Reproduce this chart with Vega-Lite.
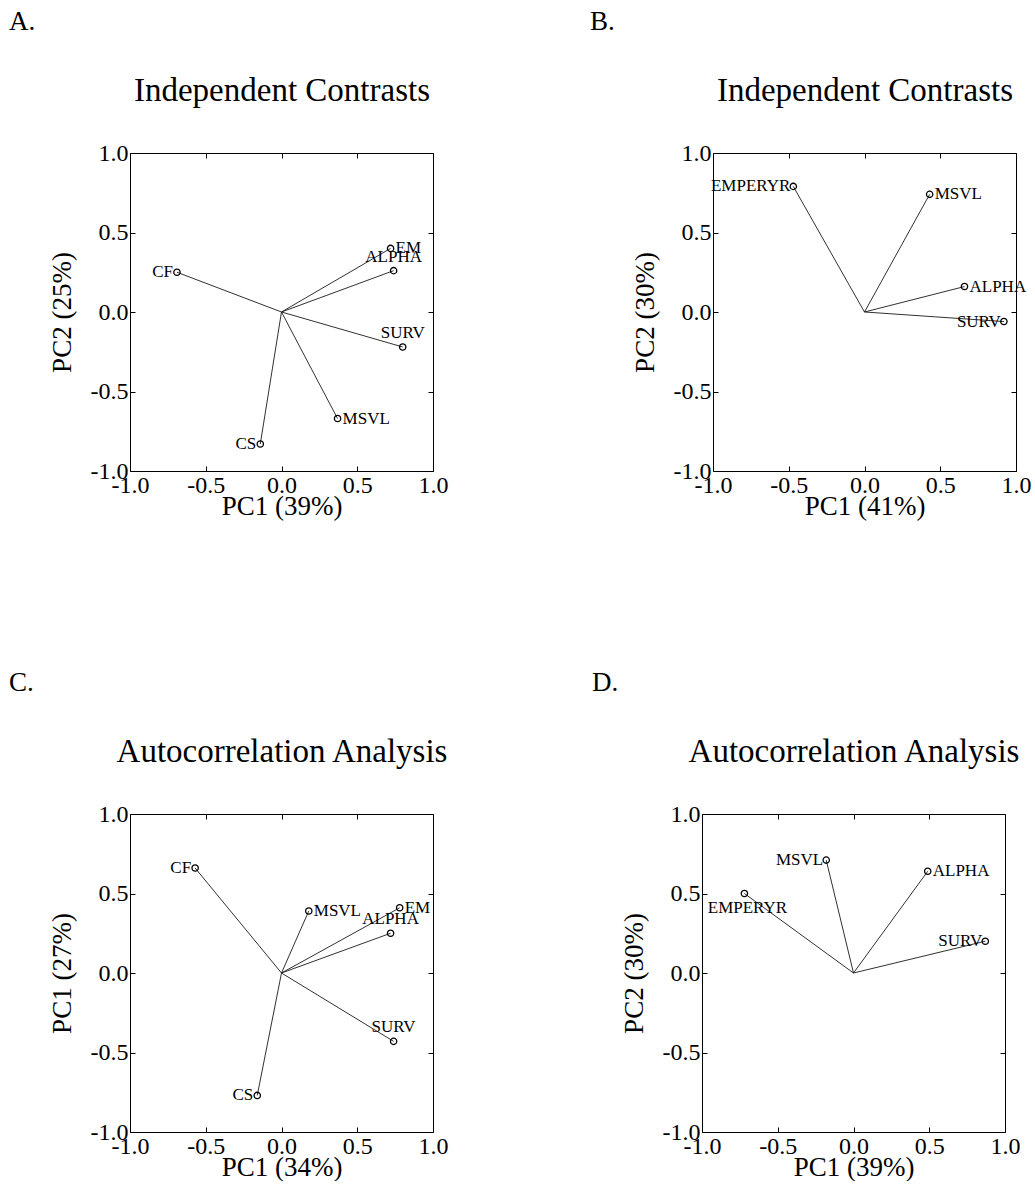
{
  "$schema": "https://vega.github.io/schema/vega-lite/v6.json",
  "background": "white",
  "padding": {"left": 8, "top": 7, "right": 0, "bottom": 0},
  "spacing": 148,
  "vconcat": [
    {
      "spacing": 140,
      "hconcat": [
        {
          "width": 303, "height": 318,
          "title": {"text": "A.", "dx": -121},
          "data": {"values": [
            {"label": "CF", "x": -0.69, "y": 0.25},
            {"label": "EM", "x": 0.72, "y": 0.40},
            {"label": "ALPHA", "x": 0.74, "y": 0.26},
            {"label": "SURV", "x": 0.80, "y": -0.22},
            {"label": "MSVL", "x": 0.37, "y": -0.67},
            {"label": "CS", "x": -0.14, "y": -0.83}
          ]},
          "resolve": {"axis": {"x": "independent", "y": "independent"}},
          "layer": [
            {"mark": {"type": "rule", "color": "#1a1a1a", "strokeWidth": 0.9},
             "encoding": {
               "x": {"field": "x", "type": "quantitative", "scale": {"domain": [-1, 1], "nice": false, "zero": false}, "axis": {"title": "PC1 (39%)", "format": ".1f"}},
               "y": {"field": "y", "type": "quantitative", "scale": {"domain": [-1, 1], "nice": false, "zero": false}, "axis": {"title": "PC2 (25%)", "format": ".1f"}},
               "x2": {"datum": 0}, "y2": {"datum": 0}}},
            {"mark": {"type": "point", "shape": "circle", "filled": false, "color": "black", "size": 40, "strokeWidth": 1.3, "opacity": 1},
             "encoding": {
               "x": {"field": "x", "type": "quantitative", "axis": {"orient": "top", "labels": false, "title": "Independent Contrasts", "titleFontSize": 33, "titlePadding": 45}},
               "y": {"field": "y", "type": "quantitative", "axis": {"orient": "right", "labels": false, "title": null}}}},
            {"transform": [{"filter": {"field": "label", "oneOf": ["EM", "MSVL"]}}],
             "mark": {"type": "text", "align": "left", "baseline": "middle", "dx": 5},
             "encoding": {"x": {"field": "x", "type": "quantitative", "axis": null}, "y": {"field": "y", "type": "quantitative", "axis": null}, "text": {"field": "label"}}},
            {"transform": [{"filter": {"field": "label", "oneOf": ["CF", "CS"]}}],
             "mark": {"type": "text", "align": "right", "baseline": "middle", "dx": -4},
             "encoding": {"x": {"field": "x", "type": "quantitative", "axis": null}, "y": {"field": "y", "type": "quantitative", "axis": null}, "text": {"field": "label"}}},
            {"transform": [{"filter": {"field": "label", "oneOf": ["ALPHA", "SURV"]}}],
             "mark": {"type": "text", "align": "center", "baseline": "alphabetic", "dy": -9},
             "encoding": {"x": {"field": "x", "type": "quantitative", "axis": null}, "y": {"field": "y", "type": "quantitative", "axis": null}, "text": {"field": "label"}}}
          ]
        },
        {
          "width": 303, "height": 318,
          "title": {"text": "B.", "dx": -123},
          "data": {"values": [
            {"label": "EMPERYR", "x": -0.47, "y": 0.79},
            {"label": "MSVL", "x": 0.43, "y": 0.74},
            {"label": "ALPHA", "x": 0.66, "y": 0.16},
            {"label": "SURV", "x": 0.92, "y": -0.06}
          ]},
          "resolve": {"axis": {"x": "independent", "y": "independent"}},
          "layer": [
            {"mark": {"type": "rule", "color": "#1a1a1a", "strokeWidth": 0.9},
             "encoding": {
               "x": {"field": "x", "type": "quantitative", "scale": {"domain": [-1, 1], "nice": false, "zero": false}, "axis": {"title": "PC1 (41%)", "format": ".1f"}},
               "y": {"field": "y", "type": "quantitative", "scale": {"domain": [-1, 1], "nice": false, "zero": false}, "axis": {"title": "PC2 (30%)", "format": ".1f"}},
               "x2": {"datum": 0}, "y2": {"datum": 0}}},
            {"mark": {"type": "point", "shape": "circle", "filled": false, "color": "black", "size": 40, "strokeWidth": 1.3, "opacity": 1},
             "encoding": {
               "x": {"field": "x", "type": "quantitative", "axis": {"orient": "top", "labels": false, "title": "Independent Contrasts", "titleFontSize": 33, "titlePadding": 45}},
               "y": {"field": "y", "type": "quantitative", "axis": {"orient": "right", "labels": false, "title": null}}}},
            {"transform": [{"filter": {"field": "label", "oneOf": ["MSVL", "ALPHA"]}}],
             "mark": {"type": "text", "align": "left", "baseline": "middle", "dx": 5},
             "encoding": {"x": {"field": "x", "type": "quantitative", "axis": null}, "y": {"field": "y", "type": "quantitative", "axis": null}, "text": {"field": "label"}}},
            {"transform": [{"filter": {"field": "label", "oneOf": ["EMPERYR", "SURV"]}}],
             "mark": {"type": "text", "align": "right", "baseline": "middle", "dx": -3},
             "encoding": {"x": {"field": "x", "type": "quantitative", "axis": null}, "y": {"field": "y", "type": "quantitative", "axis": null}, "text": {"field": "label"}}}
          ]
        }
      ]
    },
    {
      "spacing": 142,
      "hconcat": [
        {
          "width": 303, "height": 318,
          "title": {"text": "C.", "dx": -121},
          "data": {"values": [
            {"label": "CF", "x": -0.57, "y": 0.66},
            {"label": "MSVL", "x": 0.18, "y": 0.39},
            {"label": "EM", "x": 0.78, "y": 0.41},
            {"label": "ALPHA", "x": 0.72, "y": 0.25},
            {"label": "SURV", "x": 0.74, "y": -0.43},
            {"label": "CS", "x": -0.16, "y": -0.77}
          ]},
          "resolve": {"axis": {"x": "independent", "y": "independent"}},
          "layer": [
            {"mark": {"type": "rule", "color": "#1a1a1a", "strokeWidth": 0.9},
             "encoding": {
               "x": {"field": "x", "type": "quantitative", "scale": {"domain": [-1, 1], "nice": false, "zero": false}, "axis": {"title": "PC1 (34%)", "format": ".1f"}},
               "y": {"field": "y", "type": "quantitative", "scale": {"domain": [-1, 1], "nice": false, "zero": false}, "axis": {"title": "PC1 (27%)", "format": ".1f"}},
               "x2": {"datum": 0}, "y2": {"datum": 0}}},
            {"mark": {"type": "point", "shape": "circle", "filled": false, "color": "black", "size": 40, "strokeWidth": 1.3, "opacity": 1},
             "encoding": {
               "x": {"field": "x", "type": "quantitative", "axis": {"orient": "top", "labels": false, "title": "Autocorrelation Analysis", "titleFontSize": 33, "titlePadding": 45}},
               "y": {"field": "y", "type": "quantitative", "axis": {"orient": "right", "labels": false, "title": null}}}},
            {"transform": [{"filter": {"field": "label", "oneOf": ["EM", "MSVL"]}}],
             "mark": {"type": "text", "align": "left", "baseline": "middle", "dx": 5},
             "encoding": {"x": {"field": "x", "type": "quantitative", "axis": null}, "y": {"field": "y", "type": "quantitative", "axis": null}, "text": {"field": "label"}}},
            {"transform": [{"filter": {"field": "label", "oneOf": ["CF", "CS"]}}],
             "mark": {"type": "text", "align": "right", "baseline": "middle", "dx": -4},
             "encoding": {"x": {"field": "x", "type": "quantitative", "axis": null}, "y": {"field": "y", "type": "quantitative", "axis": null}, "text": {"field": "label"}}},
            {"transform": [{"filter": {"field": "label", "oneOf": ["ALPHA", "SURV"]}}],
             "mark": {"type": "text", "align": "center", "baseline": "alphabetic", "dy": -9},
             "encoding": {"x": {"field": "x", "type": "quantitative", "axis": null}, "y": {"field": "y", "type": "quantitative", "axis": null}, "text": {"field": "label"}}}
          ]
        },
        {
          "width": 303, "height": 318,
          "title": {"text": "D.", "dx": -110},
          "data": {"values": [
            {"label": "EMPERYR", "x": -0.72, "y": 0.50},
            {"label": "MSVL", "x": -0.18, "y": 0.71},
            {"label": "ALPHA", "x": 0.49, "y": 0.64},
            {"label": "SURV", "x": 0.87, "y": 0.20}
          ]},
          "resolve": {"axis": {"x": "independent", "y": "independent"}},
          "layer": [
            {"mark": {"type": "rule", "color": "#1a1a1a", "strokeWidth": 0.9},
             "encoding": {
               "x": {"field": "x", "type": "quantitative", "scale": {"domain": [-1, 1], "nice": false, "zero": false}, "axis": {"title": "PC1 (39%)", "format": ".1f"}},
               "y": {"field": "y", "type": "quantitative", "scale": {"domain": [-1, 1], "nice": false, "zero": false}, "axis": {"title": "PC2 (30%)", "format": ".1f"}},
               "x2": {"datum": 0}, "y2": {"datum": 0}}},
            {"mark": {"type": "point", "shape": "circle", "filled": false, "color": "black", "size": 40, "strokeWidth": 1.3, "opacity": 1},
             "encoding": {
               "x": {"field": "x", "type": "quantitative", "axis": {"orient": "top", "labels": false, "title": "Autocorrelation Analysis", "titleFontSize": 33, "titlePadding": 45}},
               "y": {"field": "y", "type": "quantitative", "axis": {"orient": "right", "labels": false, "title": null}}}},
            {"transform": [{"filter": {"field": "label", "oneOf": ["ALPHA"]}}],
             "mark": {"type": "text", "align": "left", "baseline": "middle", "dx": 5},
             "encoding": {"x": {"field": "x", "type": "quantitative", "axis": null}, "y": {"field": "y", "type": "quantitative", "axis": null}, "text": {"field": "label"}}},
            {"transform": [{"filter": {"field": "label", "oneOf": ["MSVL", "SURV"]}}],
             "mark": {"type": "text", "align": "right", "baseline": "middle", "dx": -3},
             "encoding": {"x": {"field": "x", "type": "quantitative", "axis": null}, "y": {"field": "y", "type": "quantitative", "axis": null}, "text": {"field": "label"}}},
            {"transform": [{"filter": {"field": "label", "oneOf": ["EMPERYR"]}}],
             "mark": {"type": "text", "align": "center", "baseline": "top", "dy": 6, "dx": 3},
             "encoding": {"x": {"field": "x", "type": "quantitative", "axis": null}, "y": {"field": "y", "type": "quantitative", "axis": null}, "text": {"field": "label"}}}
          ]
        }
      ]
    }
  ],
  "config": {
    "locale": {"number": {"decimal": ".", "thousands": ",", "grouping": [3], "currency": ["$", ""], "minus": "-"}},
    "font": "Liberation Serif",
    "view": {"stroke": "black", "strokeWidth": 1},
    "title": {"font": "Liberation Serif", "fontSize": 27, "fontWeight": "normal", "color": "black", "anchor": "start", "frame": "group", "offset": 39},
    "text": {"font": "Liberation Serif", "fontSize": 17, "color": "black"},
    "axis": {
      "grid": false, "domain": false, "offset": -5, "tickSize": 5, "tickColor": "black", "tickWidth": 1, "tickCount": 5,
      "labelFont": "Liberation Serif", "labelFontSize": 24, "labelColor": "black", "labelFlush": false, "labelOverlap": false, "labelBound": false, "labelPadding": 2,
      "titleFont": "Liberation Serif", "titleFontSize": 27, "titleFontWeight": "normal", "titleColor": "black"
    },
    "axisX": {"titlePadding": -4},
    "axisY": {"titlePadding": 14}
  }
}
